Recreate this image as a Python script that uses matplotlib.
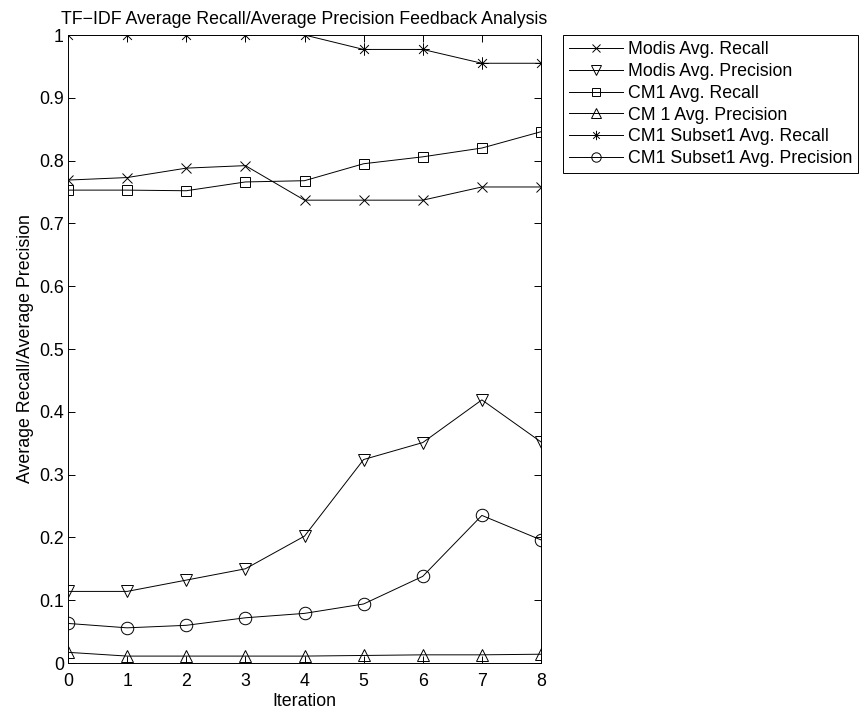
import numpy as np
import matplotlib
matplotlib.use('Agg')
import matplotlib.pyplot as plt
from matplotlib.path import Path

plt.rcParams['font.family'] = ['Liberation Sans', 'DejaVu Sans']

# Data
iterations = [0, 1, 2, 3, 4, 5, 6, 7, 8]
modis_recall = [0.769, 0.773, 0.788, 0.792, 0.737, 0.737, 0.737, 0.758, 0.758]
modis_precision = [0.114, 0.114, 0.132, 0.150, 0.202, 0.324, 0.351, 0.419, 0.352]
cm1_recall = [0.753, 0.753, 0.752, 0.766, 0.768, 0.795, 0.806, 0.820, 0.846]
cm1_precision = [0.017, 0.011, 0.011, 0.011, 0.011, 0.012, 0.013, 0.013, 0.014]
subset_recall = [1.0, 1.0, 1.0, 1.0, 1.0, 0.977, 0.977, 0.955, 0.955]
subset_precision = [0.063, 0.056, 0.060, 0.072, 0.079, 0.094, 0.138, 0.235, 0.196]

labels = ['Modis Avg. Recall', 'Modis Avg. Precision', 'CM1 Avg. Recall',
          'CM 1 Avg. Precision', 'CM1 Subset1 Avg. Recall',
          'CM1 Subset1 Avg. Precision']
series = [modis_recall, modis_precision, cm1_recall, cm1_precision,
          subset_recall, subset_precision]

# matlab style asterisk: plus and cross on top of each other
d = 0.7071
asterisk = Path([(-1, 0), (1, 0), (0, -1), (0, 1), (-d, -d), (d, d), (-d, d), (d, -d)],
                [Path.MOVETO, Path.LINETO] * 4)
markers = ['x', 'v', 's', '^', asterisk, 'o']
sizes = [7, 9, 7, 9, 9, 9]

fs = 12.8
fig = plt.figure(figsize=(8.67, 7.13), dpi=100)
ax = fig.add_axes([68 / 867, 50 / 713, (541 - 68) / 867, (663 - 35) / 713])

for ys, m, ms, lab in zip(series, markers, sizes, labels):
    ax.plot(iterations, ys, color='black', lw=0.7, marker=m, ms=ms,
            mfc='none', mec='black', mew=0.7, label=lab)

ax.set_xlim(0, 8)
ax.set_ylim(0, 1)
ax.set_xticks(iterations)
ax.set_yticks(np.arange(0, 1.01, 0.1))
ax.set_yticklabels(['0', '0.1', '0.2', '0.3', '0.4', '0.5', '0.6', '0.7',
                    '0.8', '0.9', '1'])
ax.tick_params(direction='in', top=True, right=True, length=5, width=0.7,
               labelsize=fs)
ax.tick_params(axis='x', pad=7)
ax.tick_params(axis='y', pad=3)
for sp in ax.spines.values():
    sp.set_linewidth(0.7)

ax.set_title('TF\u2212IDF Average Recall/Average Precision Feedback Analysis',
             fontsize=fs, pad=8)
ax.set_xlabel('Iteration', fontsize=fs, labelpad=2)
ax.set_ylabel('Average Recall/Average Precision', fontsize=fs, labelpad=4)

leg = fig.legend(loc='upper left', bbox_to_anchor=(563 / 867, 1 - 35 / 713),
                 bbox_transform=fig.transFigure, borderaxespad=0,
                 fontsize=fs, handlelength=3.0, handletextpad=0.28,
                 labelspacing=0.27, borderpad=0.35, markerscale=0.75,
                 fancybox=False, edgecolor='black', framealpha=1)
leg.get_frame().set_linewidth(0.7)

fig.savefig('out.png', dpi=100)
